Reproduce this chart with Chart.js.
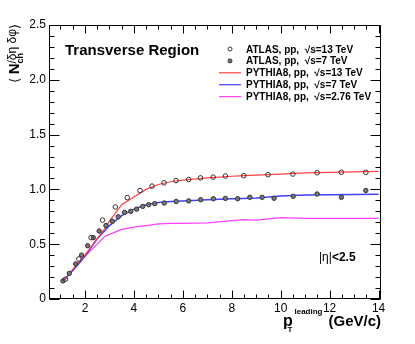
<!DOCTYPE html>
<html>
<head>
<meta charset="utf-8">
<script src="https://cdn.jsdelivr.net/npm/chart.js@4/dist/chart.umd.min.js"></script>
<style>
    html, body { margin: 0; padding: 0; background: #fff; }
    canvas { display: block; }
</style>
</head>
<body>
<canvas id="chart" width="415" height="344"></canvas>
<script>
// ATLAS data points
const atlas13X = [1.2, 1.75, 2.25, 2.72, 3.24, 3.73, 4.25, 4.74, 5.23, 5.72, 6.24, 6.72, 7.24, 7.74, 8.49, 9.48, 10.5, 11.49, 12.48, 13.48];
const atlas13Y = [0.18, 0.365, 0.56, 0.72, 0.84, 0.925, 0.99, 1.03, 1.06, 1.08, 1.09, 1.105, 1.112, 1.122, 1.125, 1.134, 1.14, 1.152, 1.156, 1.156];

const atlas7X = [1.1, 1.36, 1.62, 1.86, 2.11, 2.34, 2.58, 2.86, 3.12, 3.36, 3.62, 3.87, 4.11, 4.36, 4.6, 4.85, 5.24, 5.73, 6.24, 6.73, 7.25, 7.74, 8.24, 8.74, 9.24, 9.73, 10.51, 11.49, 12.48, 13.48];
const atlas7Y = [0.165, 0.234, 0.32, 0.40, 0.486, 0.56, 0.62, 0.67, 0.71, 0.75, 0.79, 0.80, 0.82, 0.845, 0.86, 0.87, 0.876, 0.89, 0.895, 0.906, 0.915, 0.918, 0.915, 0.928, 0.928, 0.919, 0.937, 0.958, 0.928, 0.99];

// PYTHIA8 curves, common pT grid
const pythiaX = [1.1, 1.5, 2.0, 2.5, 2.8, 3.0, 3.5, 4.0, 4.5, 5.0, 5.5, 6.0, 7.0, 8.0, 8.5, 9.0, 10.0, 11.0, 12.0, 13.0, 14.0];
const pythia13Y = [0.16, 0.27, 0.40, 0.55, 0.64, 0.71, 0.86, 0.93, 1.0, 1.045, 1.07, 1.085, 1.105, 1.12, 1.125, 1.13, 1.14, 1.15, 1.155, 1.16, 1.165];
const pythia7Y = [0.16, 0.26, 0.39, 0.55, 0.62, 0.67, 0.76, 0.82, 0.86, 0.88, 0.89, 0.895, 0.905, 0.915, 0.918, 0.922, 0.94, 0.95, 0.952, 0.953, 0.955];
const pythia276Y = [0.16, 0.26, 0.39, 0.50, 0.57, 0.59, 0.635, 0.655, 0.67, 0.685, 0.69, 0.69, 0.695, 0.715, 0.725, 0.72, 0.742, 0.735, 0.735, 0.735, 0.735];

const xTickLabels = [2, 4, 6, 8, 10, 12, 14];
const yTickLabels = [0, 0.5, 1, 1.5, 2, 2.5];

const legendLabels = [
    'ATLAS, pp,  \u221As=13 TeV',
    'ATLAS, pp,  \u221As=7 TeV',
    'PYTHIA8, pp,  \u221As=13 TeV',
    'PYTHIA8, pp,  \u221As=7 TeV',
    'PYTHIA8, pp,  \u221As=2.76 TeV',
];

const FONT = '"Liberation Sans", Arial, Helvetica, sans-serif';

const pts = (xs, ys) => xs.map((x, i) => ({ x: x, y: ys[i] }));

function rootFrame(chart) {
    const ctx = chart.ctx;
    const a = chart.chartArea;
    const xs = chart.scales.x;
    const ys = chart.scales.y;
    const L = Math.round(a.left) + 0.5;
    const R = Math.round(a.right) - 0.5;
    const T = Math.round(a.top) + 0.5;
    const B = Math.round(a.bottom) - 0.5;

    ctx.save();
    ctx.strokeStyle = '#000';
    ctx.lineWidth = 1;
    ctx.strokeRect(L, T, R - L, B - T);

    ctx.beginPath();
    // y ticks, left and right, pointing in
    for (let i = 0; i <= 25; i++) {
        const v = i / 10;
        const len = i % 5 === 0 ? 10 : 5;
        const py = Math.round(ys.getPixelForValue(v)) + 0.5;
        ctx.moveTo(L, py); ctx.lineTo(L + len, py);
        ctx.moveTo(R, py); ctx.lineTo(R - len, py);
    }
    // x ticks, bottom and top
    for (let i = 2; i <= 28; i++) {
        const v = i / 2;
        const len = i % 4 === 0 ? 8 : 4;
        const px = Math.round(xs.getPixelForValue(v)) + 0.5;
        ctx.moveTo(px, B); ctx.lineTo(px, B - len);
        ctx.moveTo(px, T); ctx.lineTo(px, T + len);
    }
    ctx.stroke();

    // title inside plot
    ctx.fillStyle = '#000';
    ctx.textBaseline = 'alphabetic';
    ctx.textAlign = 'left';
    ctx.font = 'bold 15px ' + FONT;
    ctx.fillText('Transverse Region', 65, 55);

    ctx.font = '12px ' + FONT;
    ctx.fillText('|\u03B7|', 319, 261);
    const w = ctx.measureText('|\u03B7|').width;
    ctx.font = 'bold 12px ' + FONT;
    ctx.fillText('<2.5', 319 + w, 261);

    // legend
    const ds = chart.data.datasets;
    ctx.font = 'bold 10px ' + FONT;
    legendLabels.forEach((label, i) => {
        const yc = 49 + i * 11.9;
        const d = ds[i];
        if (d.showLine) {
            ctx.strokeStyle = d.borderColor;
            ctx.lineWidth = 1.2;
            ctx.beginPath();
            ctx.moveTo(219, yc); ctx.lineTo(241, yc);
            ctx.stroke();
        } else {
            ctx.beginPath();
            ctx.arc(230, yc, 2, 0, Math.PI * 2);
            ctx.fillStyle = d.pointBackgroundColor;
            ctx.fill();
            ctx.strokeStyle = d.pointBorderColor;
            ctx.lineWidth = 1;
            ctx.stroke();
        }
        ctx.fillStyle = '#000';
        ctx.fillText(label, 246, yc + 3.5);
    });

    // x axis title, right aligned at the axis end
    const base = 326;
    ctx.font = 'bold 15px ' + FONT;
    const gw = ctx.measureText('(GeV/c)').width;
    const gx = 381 - gw;
    ctx.fillText('(GeV/c)', gx, base);
    ctx.font = 'bold 8px ' + FONT;
    const lw = ctx.measureText('leading').width;
    const lx = gx - 6 - lw;
    ctx.fillText('leading', lx, base - 12);
    ctx.font = 'bold 16px ' + FONT;
    ctx.fillText('p', lx - 11.5, base);
    ctx.font = 'bold 8px ' + FONT;
    ctx.fillText('T', lx - 7, base + 6);

    // y axis title, rotated, ending at the top of the axis
    const yparts = [
        { t: '\u27E8 ', f: '13px ', dy: 0 },
        { t: 'N', f: 'bold 15px ', dy: 0 },
        { t: 'ch', f: 'bold 9px ', dy: 4, noAdvance: true },
        { t: '/\u03B4\u03B7 \u03B4\u03C6', f: '12px ', dy: -3 },
        { t: '\u27E9', f: '13px ', dy: 0 },
    ];
    let total = 0;
    yparts.forEach(p => {
        ctx.font = p.f + FONT;
        p.w = ctx.measureText(p.t).width;
        if (!p.noAdvance) total += p.w;
    });
    ctx.translate(19, 24);
    ctx.rotate(-Math.PI / 2);
    let cx = -total;
    yparts.forEach(p => {
        ctx.font = p.f + FONT;
        ctx.fillText(p.t, cx, p.dy);
        if (!p.noAdvance) cx += p.w;
    });
    ctx.restore();
}

new Chart(document.getElementById('chart').getContext('2d'), {
    type: 'scatter',
    data: {
        datasets: [
            {
                label: legendLabels[0],
                data: pts(atlas13X, atlas13Y),
                pointStyle: 'circle',
                pointRadius: 2.3,
                pointBorderWidth: 1,
                pointBackgroundColor: 'rgba(255,255,255,0)',
                pointBorderColor: '#333',
                showLine: false,
                order: 0,
            },
            {
                label: legendLabels[1],
                data: pts(atlas7X, atlas7Y),
                pointStyle: 'circle',
                pointRadius: 2.2,
                pointBorderWidth: 1,
                pointBackgroundColor: '#777',
                pointBorderColor: '#333',
                showLine: false,
                order: 0,
            },
            {
                label: legendLabels[2],
                data: pts(pythiaX, pythia13Y),
                showLine: true,
                borderColor: '#ff4040',
                borderWidth: 1.2,
                pointRadius: 0,
                order: 1,
            },
            {
                label: legendLabels[3],
                data: pts(pythiaX, pythia7Y),
                showLine: true,
                borderColor: '#4040ff',
                borderWidth: 1.5,
                pointRadius: 0,
                order: 1,
            },
            {
                label: legendLabels[4],
                data: pts(pythiaX, pythia276Y),
                showLine: true,
                borderColor: '#ff40ff',
                borderWidth: 1.2,
                pointRadius: 0,
                order: 1,
            },
        ],
    },
    options: {
        responsive: false,
        animation: false,
        layout: {
            padding: { top: 25, right: 34, left: 0, bottom: 0 },
        },
        plugins: {
            legend: { display: false },
            tooltip: { enabled: false },
        },
        scales: {
            x: {
                type: 'linear',
                min: 0.53,
                max: 14.1,
                afterBuildTicks: scale => {
                    scale.ticks = xTickLabels.map(v => ({ value: v }));
                },
                afterFit: scale => {
                    scale.height = 45;
                },
                ticks: {
                    autoSkip: false,
                    maxRotation: 0,
                    padding: 2,
                    color: '#000',
                    font: { family: FONT, size: 12 },
                },
                grid: { display: false, drawTicks: false },
                border: { display: false },
            },
            y: {
                type: 'linear',
                min: 0,
                max: 2.5,
                afterBuildTicks: scale => {
                    scale.ticks = yTickLabels.map(v => ({ value: v }));
                },
                afterFit: scale => {
                    scale.width = 49;
                },
                ticks: {
                    autoSkip: false,
                    padding: 3,
                    color: '#000',
                    font: { family: FONT, size: 12 },
                },
                grid: { display: false, drawTicks: false },
                border: { display: false },
            },
        },
    },
    plugins: [{ id: 'rootFrame', afterDatasetsDraw: rootFrame }],
});
</script>
</body>
</html>
